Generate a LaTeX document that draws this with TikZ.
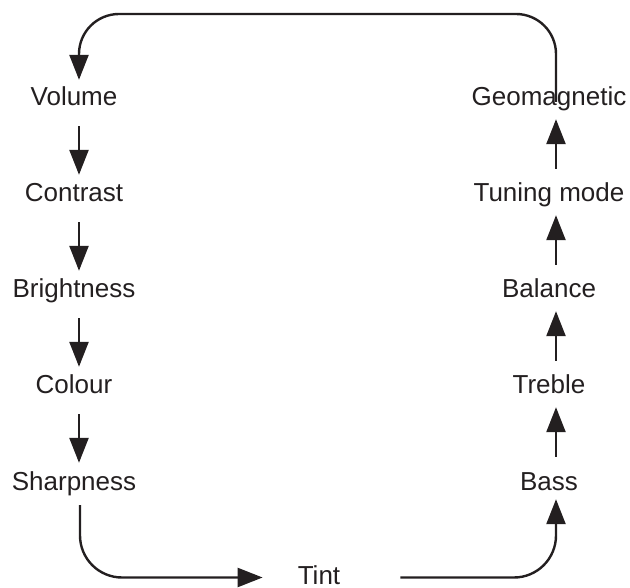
\documentclass[tikz,border=0pt]{standalone}
\usepackage{fontspec}
\setmainfont{Liberation Sans}
\usetikzlibrary{arrows.meta}
\definecolor{ink}{RGB}{35,31,32}
\begin{document}
\begin{tikzpicture}[x=1pt,y=-1pt,
  lbl/.style={anchor=base,inner sep=0pt,text height=19pt,text depth=6pt,
    font=\fontsize{26}{30}\selectfont,text=ink},
  arr/.style={draw=ink,line width=2.4pt,-{Triangle[length=25pt,width=19pt]}},
  downarr/.style={arr,shorten <=14pt,shorten >=8pt},
  uparr/.style={arr,shorten <=14pt,shorten >=7pt}]
\useasboundingbox (0,0) rectangle (630,588);
% left column
\node[lbl] (vol) at (74,106) {Volume};
\node[lbl] (con) at (74,202) {Contrast};
\node[lbl] (bri) at (74,298) {Brightness};
\node[lbl] (col) at (74,394) {Colour};
\node[lbl] (sha) at (74,490) {Sharpness};
% bottom
\node[lbl] (tint) at (319,584) {Tint};
% right column
\node[lbl] (bas) at (549,490) {Bass};
\node[lbl] (tre) at (549,394) {Treble};
\node[lbl] (bal) at (549,298) {Balance};
\node[lbl] (tun) at (549,202) {Tuning mode};
\node[lbl] (geo) at (549,106) {Geomagnetic};
\coordinate (top) at (300,14);
% down arrows
\draw[downarr] ([xshift=5pt]vol.south) -- ([xshift=5pt]con.north);
\draw[downarr] ([xshift=5pt]con.south) -- ([xshift=5pt]bri.north);
\draw[downarr] ([xshift=5pt]bri.south) -- ([xshift=5pt]col.north);
\draw[downarr] ([xshift=5pt]col.south) -- ([xshift=5pt]sha.north);
% up arrows
\draw[uparr] ([xshift=7pt]bas.north) -- ([xshift=7pt]tre.south);
\draw[uparr] ([xshift=7pt]tre.north) -- ([xshift=7pt]bal.south);
\draw[uparr] ([xshift=7pt]bal.north) -- ([xshift=7pt]tun.south);
\draw[uparr] ([xshift=7pt]tun.north) -- ([xshift=7pt]geo.south);
% bottom connectors
\draw[arr,rounded corners=42pt,shorten <=9pt,shorten >=35pt]
  ([xshift=6pt]sha.south) |- (tint.west);
\draw[arr,rounded corners=42pt,shorten <=60pt,shorten >=3pt]
  (tint.east) -| ([xshift=7pt]bas.south);
% top connector
\draw[arr,rounded corners=40pt,shorten >=7pt]
  ([xshift=7pt,yshift=-15pt]geo.north) |- (top) -| ([xshift=5pt]vol.north);
\end{tikzpicture}
\end{document}
